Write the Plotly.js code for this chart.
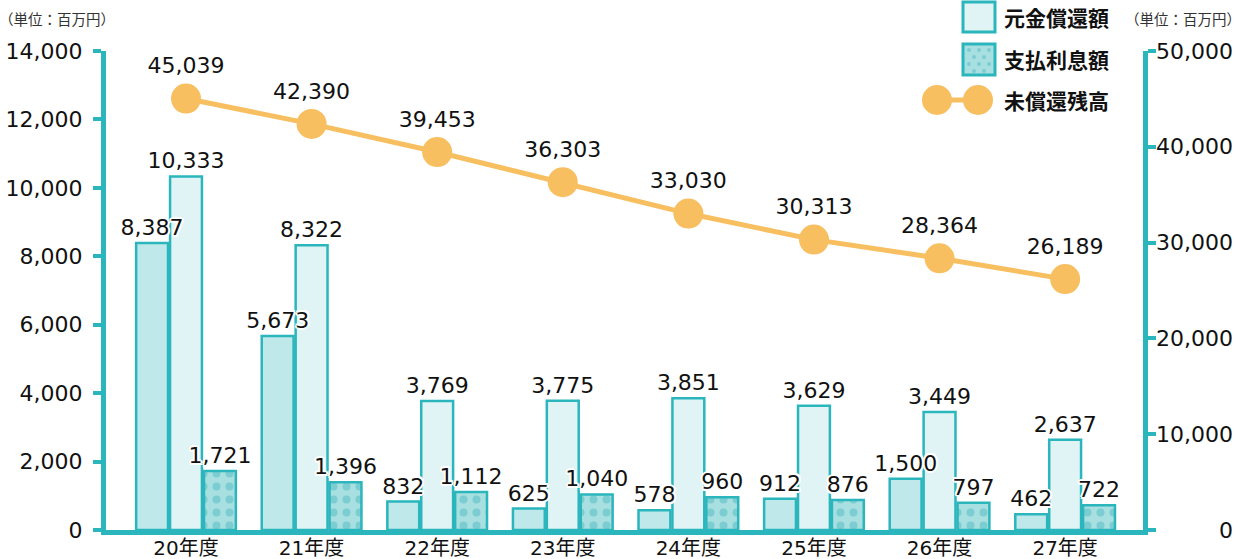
<!DOCTYPE html>
<html>
<head>
<meta charset="utf-8">
<script src="https://cdn.plot.ly/plotly-3.0.1.min.js"></script>
<style>
  html, body { margin: 0; padding: 0; background: #fff; }
  #chart { width: 1246px; height: 559px; }
</style>
</head>
<body>
<div id="chart"></div>
<script>
// ---- data ----
const categories = ['20年度', '21年度', '22年度', '23年度', '24年度', '25年度', '26年度', '27年度'];
const firstBars = [8387, 5673, 832, 625, 578, 912, 1500, 462];
const principal = [10333, 8322, 3769, 3775, 3851, 3629, 3449, 2637];
const interest = [1721, 1396, 1112, 1040, 960, 876, 797, 722];
const balance = [45039, 42390, 39453, 36303, 33030, 30313, 28364, 26189];
const leftTicks = [0, 2000, 4000, 6000, 8000, 10000, 12000, 14000];
const rightTicks = [0, 10000, 20000, 30000, 40000, 50000];
const legendLabels = ['元金償還額', '支払利息額', '未償還残高'];
const unitLabel = '（単位：百万円）';

// ---- style ----
const TEAL = '#2AB6BC';
const ORANGE = '#F8BF60';
const FONT = '"DejaVu Sans", "Noto Sans CJK JP", sans-serif';
const JP = '"Noto Sans CJK JP", sans-serif';
const HALO = '2px 0 0 #fff, -2px 0 0 #fff, 0 2px 0 #fff, 0 -2px 0 #fff, 1.5px 1.5px 0 #fff, -1.5px -1.5px 0 #fff, 1.5px -1.5px 0 #fff, -1.5px 1.5px 0 #fff';
const labelFont = { family: FONT, size: 22, color: '#111', shadow: HALO };

// plot area in pixels
const L = 106, R = 1143, T = 51, B = 530;
const px = x => (x - L) / (R - L);
const py = y => (B - y) / (B - T);

const traces = [
  {
    type: 'bar', x: categories, y: firstBars, offsetgroup: 'a', showlegend: false,
    marker: { color: '#BEE8E9', line: { color: TEAL, width: 2.5 } },
    hoverinfo: 'skip'
  },
  {
    type: 'bar', x: categories, y: principal, offsetgroup: 'b', name: legendLabels[0], showlegend: false,
    marker: { color: '#E0F4F5', line: { color: TEAL, width: 2.5 } },
    texttemplate: '%{y:,}', textposition: 'outside', constraintext: 'none', cliponaxis: false,
    textfont: labelFont, hoverinfo: 'skip'
  },
  {
    type: 'bar', x: categories, y: interest, offsetgroup: 'c', name: legendLabels[1], showlegend: false,
    marker: { color: '#A8DFE0', line: { color: TEAL, width: 2.5 },
      pattern: { shape: '.', bgcolor: '#A8DFE0', fgcolor: '#7CCDD1', size: 13, solidity: 0.3 } },
    texttemplate: '%{y:,}', textposition: 'outside', constraintext: 'none', cliponaxis: false,
    textfont: labelFont, hoverinfo: 'skip'
  },
  // labels for the first series, drawn on top of neighbouring bars
  {
    type: 'bar', x: categories, y: firstBars, offsetgroup: 'a', showlegend: false,
    marker: { color: 'rgba(0,0,0,0)', line: { width: 0 } },
    texttemplate: '%{y:,}', textposition: 'outside', constraintext: 'none', cliponaxis: false,
    textfont: labelFont, hoverinfo: 'skip'
  },
  {
    type: 'scatter', mode: 'lines+markers+text', x: categories, y: balance, yaxis: 'y2',
    name: legendLabels[2], showlegend: false,
    line: { color: ORANGE, width: 5 },
    marker: { color: ORANGE, size: 30 },
    texttemplate: '%{y:,}', textposition: 'top center', cliponaxis: false,
    textfont: labelFont, hoverinfo: 'skip'
  }
];

const shapes = [];
const annotations = [];

// legend: box 1
shapes.push({ type: 'rect', xref: 'paper', yref: 'paper', x0: px(963), x1: px(995), y0: py(2), y1: py(32),
  fillcolor: '#E0F4F5', line: { color: TEAL, width: 3 } });
// legend: box 2 (dotted)
shapes.push({ type: 'rect', xref: 'paper', yref: 'paper', x0: px(963), x1: px(995), y0: py(44), y1: py(75),
  fillcolor: '#A8DFE0', line: { color: TEAL, width: 3 } });
for (let r = 0; r < 4; r++) {
  for (let c = 0; c < 3; c++) {
    const cx = 969 + c * 10 + (r % 2) * 5;
    const cy = 50 + r * 7;
    if (cx > 991) continue;
    shapes.push({ type: 'circle', xref: 'paper', yref: 'paper', x0: px(cx - 2), x1: px(cx + 2), y0: py(cy - 2), y1: py(cy + 2),
      fillcolor: '#7CCDD1', line: { width: 0 } });
  }
}
// legend: line with markers
shapes.push({ type: 'line', xref: 'paper', yref: 'paper', x0: px(937), x1: px(978), y0: py(100), y1: py(100),
  line: { color: ORANGE, width: 5 } });
[937, 978].forEach(cx => shapes.push({ type: 'circle', xref: 'paper', yref: 'paper',
  x0: px(cx - 15), x1: px(cx + 15), y0: py(85), y1: py(115), fillcolor: ORANGE, line: { width: 0 } }));

[17, 59, 100].forEach((yy, i) => annotations.push({
  xref: 'paper', yref: 'paper', x: px(1002), y: py(yy), xanchor: 'left', yanchor: 'middle',
  text: '<b>' + legendLabels[i] + '</b>', showarrow: false,
  font: { family: JP, size: 21, color: '#111' }
}));

// unit labels
annotations.push({ xref: 'paper', yref: 'paper', x: px(-3), y: py(18), xanchor: 'left', yanchor: 'middle',
  text: unitLabel, showarrow: false, font: { family: JP, size: 14.5, color: '#333' } });
annotations.push({ xref: 'paper', yref: 'paper', x: px(1243), y: py(18), xanchor: 'right', yanchor: 'middle',
  text: unitLabel, showarrow: false, font: { family: JP, size: 14.5, color: '#333' } });

// right axis tick labels (right aligned)
rightTicks.forEach(v => annotations.push({
  xref: 'paper', yref: 'y2', x: px(1235), y: v, xanchor: 'right', yanchor: 'middle',
  text: v.toLocaleString('en-US'), showarrow: false, font: { family: FONT, size: 22, color: '#111' }
}));

const layout = {
  width: 1246, height: 559,
  margin: { l: L, r: 1246 - R, t: T, b: 559 - B },
  paper_bgcolor: '#fff', plot_bgcolor: '#fff',
  font: { family: FONT, size: 22, color: '#111' },
  barmode: 'group', bargap: 0.19, bargroupgap: 0.06,
  showlegend: false,
  xaxis: {
    type: 'category', range: [-0.637, 7.62],
    showline: true, linecolor: TEAL, linewidth: 5, ticks: '', showgrid: false, zeroline: false,
    ticklabelstandoff: -4,
    tickfont: { family: FONT, size: 20, color: '#111' }
  },
  yaxis: {
    range: [0, 14000], tickvals: leftTicks, tickformat: ',',
    showline: true, linecolor: TEAL, linewidth: 5, ticks: 'outside', ticklen: 8, tickwidth: 4, tickcolor: TEAL,
    showgrid: false, zeroline: false, ticklabelstandoff: 6,
    tickfont: { family: FONT, size: 22, color: '#111' }
  },
  yaxis2: {
    overlaying: 'y', side: 'right', range: [0, 50000], tickvals: rightTicks,
    showline: true, linecolor: TEAL, linewidth: 5, ticks: 'outside', ticklen: 8, tickwidth: 4, tickcolor: TEAL,
    showgrid: false, zeroline: false, showticklabels: false
  },
  shapes: shapes,
  annotations: annotations
};

Plotly.newPlot('chart', traces, layout, { displayModeBar: false, staticPlot: true });
</script>
</body>
</html>
